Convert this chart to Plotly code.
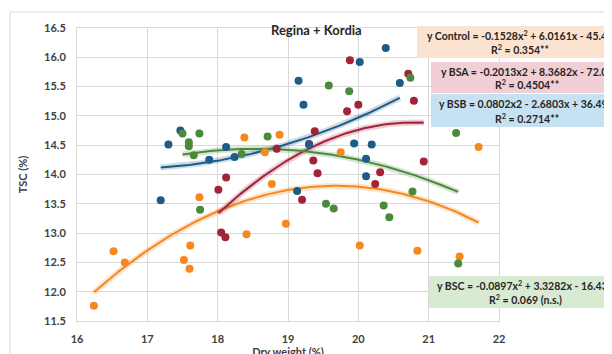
import numpy as np
import plotly.graph_objects as go

# ---- data ----
control_x = [16.24, 16.52, 16.68, 17.52, 17.60, 17.61, 17.74, 18.38, 18.41, 18.67, 18.77, 18.88,
             18.97, 19.75, 20.02, 20.84, 21.44, 21.71]
control_y = [11.76, 12.69, 12.50, 12.54, 12.39, 12.79, 13.61, 14.63, 12.98, 14.38, 13.84, 14.68,
             13.16, 14.38, 12.79, 12.70, 12.60, 14.47]

bsa_x = [18.01, 18.05, 18.11, 18.12, 18.84, 19.20, 19.30, 19.36, 19.38, 19.42, 19.84, 19.88,
         20.00, 20.24, 20.31, 20.71, 20.79, 20.93]
bsa_y = [13.74, 13.01, 12.93, 13.95, 14.44, 13.57, 14.52, 14.24, 14.74, 14.02, 15.08, 15.95,
         15.19, 13.84, 14.04, 15.72, 15.26, 14.22]

bsb_x = [17.19, 17.30, 17.47, 17.88, 18.12, 18.24, 19.13, 19.15, 19.22, 19.30, 19.94, 20.02,
         20.11, 20.11, 20.19, 20.39, 20.59]
bsb_y = [13.56, 14.51, 14.75, 14.25, 14.47, 14.30, 13.72, 15.60, 15.19, 14.51, 14.53, 15.92,
         14.27, 13.97, 14.51, 16.16, 15.56]

bsc_x = [17.50, 17.59, 17.59, 17.66, 17.74, 17.75, 18.34, 18.71, 19.54, 19.58, 19.65, 19.87,
         20.36, 20.44, 20.74, 20.77, 21.39, 21.42]
bsc_y = [14.70, 14.55, 14.48, 14.33, 14.70, 13.40, 14.35, 14.65, 13.50, 15.52, 13.42, 15.42,
         13.47, 13.27, 15.65, 13.71, 14.71, 12.48]

# trendline coefficients (a, b, c) as printed on the chart
control_coef = [-0.1528, 6.0161, -45.41]
bsa_coef = [-0.2013, 8.3682, -72.08]
bsb_coef = [0.0802, -2.6803, 36.496]
bsc_coef = [-0.0897, 3.3282, -16.432]

x_ticks = [16, 17, 18, 19, 20, 21, 22]
y_ticks = [11.5, 12.0, 12.5, 13.0, 13.5, 14.0, 14.5, 15.0, 15.5, 16.0, 16.5]

FONT = "Lato"
colors = {"Control": "#f5891f", "BSA": "#a3233b", "BSB": "#1d5b88", "BSC": "#4a8b3b"}

series = [
    ("Control", control_x, control_y, control_coef),
    ("BSA", bsa_x, bsa_y, bsa_coef),
    ("BSB", bsb_x, bsb_y, bsb_coef),
    ("BSC", bsc_x, bsc_y, bsc_coef),
]

fig = go.Figure()

# trendlines (with glow)
for name, xs, ys, coef in series:
    xx = np.linspace(min(xs), max(xs), 120)
    yy = np.polyval(coef, xx)
    c = colors[name]
    fig.add_trace(go.Scatter(x=xx, y=yy, mode="lines", line=dict(color=c, width=6),
                             opacity=0.22, hoverinfo="skip", showlegend=False))
    fig.add_trace(go.Scatter(x=xx, y=yy, mode="lines", line=dict(color=c, width=2),
                             hoverinfo="skip", showlegend=False, name=name + " fit"))

# points
for name, xs, ys, coef in series:
    fig.add_trace(go.Scatter(x=xs, y=ys, mode="markers", name=name,
                             marker=dict(color=colors[name], size=8, line=dict(width=0)),
                             showlegend=False))

# page body has an 8px default margin; lay out in window pixels minus that offset
OFF = 8
L, R, T, B = 77 - OFF, 499 - OFF, 28 - OFF, 321 - OFF
W, H = 612, 354
pw, ph = R - L, B - T


def px(xp):
    return (xp - OFF - L) / pw


def py(yp):
    return (B - (yp - OFF)) / ph


grid = "#d9d9d9"
tickfont = dict(family=FONT, size=11, color="#404040", weight="bold")

fig.update_layout(
    width=W, height=H,
    margin=dict(l=L, r=W - R, t=T, b=H - B, autoexpand=False),
    paper_bgcolor="white", plot_bgcolor="white",
    showlegend=False,
    xaxis=dict(range=[16, 22], tickvals=x_ticks, ticktext=[str(v) for v in x_ticks],
               showgrid=True, gridcolor=grid, gridwidth=1, zeroline=False,
               showline=True, linecolor=grid, mirror=True, ticks="", automargin=False,
               tickfont=tickfont, ticklabelstandoff=8,
               title=dict(text="Dry weight (%)", font=dict(family=FONT, size=11, color="#404040", weight="bold"),
                          standoff=2)),
    yaxis=dict(range=[11.5, 16.5], tickvals=y_ticks, ticktext=[f"{v:.1f}" for v in y_ticks],
               showgrid=True, gridcolor=grid, gridwidth=1, zeroline=False,
               showline=True, linecolor=grid, mirror=True, ticks="", automargin=False,
               tickfont=tickfont, ticklabelstandoff=8,
               title=dict(text="TSC (%)", font=dict(family=FONT, size=11, color="#404040", weight="bold"),
                          standoff=14)),
)

# outer chart border
fig.add_shape(type="rect", xref="paper", yref="paper",
              x0=px(10), x1=px(640), y0=py(380), y1=py(12),
              line=dict(color="#d9d9d9", width=1), fillcolor="rgba(0,0,0,0)", layer="below")

# title
fig.add_annotation(text="<b>Regina + Kordia</b>", xref="paper", yref="paper",
                   x=px(316), y=py(30), showarrow=False, xanchor="center", yanchor="middle",
                   font=dict(family=FONT, size=13, color="#262626"))

# equation boxes (window-pixel extents)
boxes = [
    (417, 622, 26, 58, "#fce3cf",
     "y Control = -0.1528x<sup>2</sup> + 6.0161x - 45.41", "R<sup>2</sup> = 0.354**"),
    (431, 622, 62, 93, "#f2ced5",
     "y BSA = -0.2013x2 + 8.3682x - 72.08", "R<sup>2</sup> = 0.4504**"),
    (431, 622, 94, 127, "#c6e1f1",
     "y BSB = 0.0802x2 - 2.6803x + 36.496", "R<sup>2</sup> = 0.2714**"),
    (429, 622, 276, 308, "#d9ead3",
     "y BSC = -0.0897x<sup>2</sup> + 3.3282x - 16.432", "R<sup>2</sup> = 0.069 (n.s.)"),
]
eqfont = dict(family=FONT, size=10.5, color="#262626", weight="bold")
for x0, x1, y0, y1, fill, l1, l2 in boxes:
    fig.add_shape(type="rect", xref="paper", yref="paper",
                  x0=px(x0), x1=px(x1), y0=py(y1), y1=py(y0),
                  line=dict(width=0), fillcolor=fill, layer="above")
    cx = (x0 + x1) / 2
    fig.add_annotation(text=l1, xref="paper", yref="paper", x=px(cx), y=py(y0 + (y1 - y0) * 0.31),
                       showarrow=False, xanchor="center", yanchor="middle", font=eqfont)
    fig.add_annotation(text=l2, xref="paper", yref="paper", x=px(cx), y=py(y0 + (y1 - y0) * 0.73),
                       showarrow=False, xanchor="center", yanchor="middle", font=eqfont)

fig.write_html("out.html")
